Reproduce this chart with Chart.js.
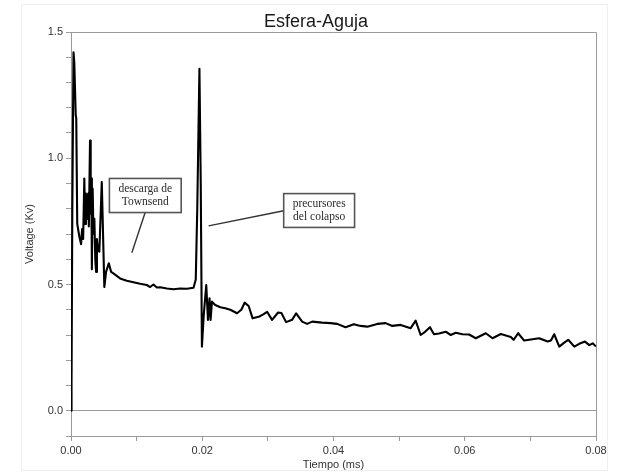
<!DOCTYPE html>
<html>
<head>
<meta charset="utf-8">
<script src="https://cdn.jsdelivr.net/npm/chart.js@4"></script>
<style>
  body { margin: 0; background: #fff; }
  #wrap { width: 617px; height: 472px; }
</style>
</head>
<body>
<div id="wrap"><canvas id="chart" width="617" height="472"></canvas></div>
<script>
// values
const tiempoMs = [
  0, 0.00008, 0.0002, 0.00038, 0.0005, 0.00072, 0.0008, 0.00095, 0.00127, 0.00153,
  0.0017, 0.00185, 0.00203, 0.00215, 0.00228, 0.0024, 0.0025, 0.00262, 0.00272, 0.0029,
  0.003, 0.0031, 0.00318, 0.0033, 0.00342, 0.00356, 0.0037, 0.00382, 0.00395, 0.00408,
  0.00432, 0.00469, 0.00508, 0.00534, 0.00576, 0.00611, 0.00646, 0.00748, 0.0085, 0.00951,
  0.01053, 0.01156, 0.01206, 0.01256, 0.01308, 0.01359, 0.01461, 0.01562, 0.01664, 0.01766,
  0.01867, 0.01901, 0.01924, 0.01957, 0.01977, 0.01995, 0.02023, 0.02061, 0.02087, 0.02111,
  0.02127, 0.02148, 0.02198, 0.02275, 0.02351, 0.02427, 0.0253, 0.02595, 0.02646, 0.02707,
  0.02768, 0.0286, 0.02936, 0.02988, 0.03064, 0.03156, 0.03206, 0.03278, 0.03369, 0.03431,
  0.03522, 0.03598, 0.03675, 0.03827, 0.03954, 0.04056, 0.04183, 0.0431, 0.04412, 0.04515,
  0.04667, 0.04794, 0.04896, 0.05023, 0.05176, 0.05252, 0.05328, 0.05379, 0.0547, 0.05531,
  0.05608, 0.0571, 0.05786, 0.05863, 0.05965, 0.06066, 0.06168, 0.06321, 0.06423, 0.0655,
  0.06702, 0.06744, 0.06814, 0.06905, 0.07034, 0.07134, 0.07263, 0.07313, 0.07363, 0.0744,
  0.07516, 0.07577, 0.07669, 0.07745, 0.07832, 0.07898, 0.0795, 0.08
];
const voltajeKv = [
  0, 0.1, 0.8, 1.42, 1.38, 1.17, 1.16, 0.74, 0.69, 0.66,
  0.72, 0.68, 0.92, 0.74, 0.86, 0.8, 0.76, 0.86, 0.73, 1.07,
  0.78, 0.92, 0.56, 0.88, 0.7, 0.76, 0.6, 0.55, 0.68, 0.64,
  0.63, 0.906, 0.49, 0.55, 0.584, 0.55, 0.544, 0.524, 0.515, 0.509,
  0.503, 0.498, 0.49, 0.5, 0.488, 0.489, 0.484, 0.481, 0.484, 0.483,
  0.487, 0.52, 0.8, 1.354, 0.9, 0.254, 0.38, 0.498, 0.36, 0.445,
  0.36, 0.432, 0.419, 0.41, 0.406, 0.4, 0.386, 0.4, 0.428, 0.415,
  0.366, 0.372, 0.383, 0.392, 0.36, 0.389, 0.387, 0.351, 0.36, 0.386,
  0.353, 0.344, 0.353, 0.349, 0.347, 0.344, 0.331, 0.343, 0.336, 0.333,
  0.344, 0.347, 0.336, 0.34, 0.327, 0.357, 0.3, 0.309, 0.331, 0.303,
  0.306, 0.313, 0.3, 0.309, 0.303, 0.302, 0.287, 0.307, 0.287, 0.304,
  0.292, 0.281, 0.307, 0.278, 0.283, 0.287, 0.274, 0.278, 0.303, 0.254,
  0.27, 0.281, 0.254, 0.265, 0.274, 0.26, 0.267, 0.254
];

const xTicks = { min: 0, max: 0.08, step: 0.01 };
const yTicks = { min: -0.1, max: 1.5, step: 0.1 };

// callouts, anchored in data units
const notas = [
  { lines: ['descarga de', 'Townsend'], box: [0.00585, 0.92, 0.01679, 0.785], from: [0.0113, 0.785], to: [0.00927, 0.626] },
  { lines: ['precursores', 'del colapso'], box: [0.03241, 0.86, 0.04321, 0.726], from: [0.03241, 0.792], to: [0.02096, 0.732] }
];

const puntos = tiempoMs.map((t, i) => ({ x: t, y: voltajeKv[i] }));
const axisGray = '#9a9a9a';
const sans = '"Liberation Sans", Arial, sans-serif';

const decor = {
  id: 'decor',
  beforeDatasetsDraw(chart) {
    const { ctx, chartArea: a } = chart;
    ctx.save();
    ctx.strokeStyle = axisGray;
    ctx.lineWidth = 1;
    ctx.beginPath();
    ctx.moveTo(a.left, a.top + 0.5);
    ctx.lineTo(a.right + 0.5, a.top + 0.5);
    ctx.lineTo(a.right + 0.5, a.bottom);
    ctx.stroke();
    ctx.restore();
  },
  afterDraw(chart) {
    const { ctx, scales: { x, y } } = chart;
    ctx.save();
    // faint outer frame
    ctx.strokeStyle = '#eeeeee';
    ctx.strokeRect(21.5, 4.5, 586, 466);

    ctx.fillStyle = '#1a1a1a';
    ctx.font = '18px ' + sans;
    ctx.textAlign = 'center';
    ctx.textBaseline = 'alphabetic';
    ctx.fillText('Esfera-Aguja', 316, 27);

    notas.forEach(n => {
      ctx.strokeStyle = '#333';
      ctx.lineWidth = 1.4;
      ctx.beginPath();
      ctx.moveTo(x.getPixelForValue(n.from[0]), y.getPixelForValue(n.from[1]));
      ctx.lineTo(x.getPixelForValue(n.to[0]), y.getPixelForValue(n.to[1]));
      ctx.stroke();
      const x0 = x.getPixelForValue(n.box[0]), y0 = y.getPixelForValue(n.box[1]);
      const x1 = x.getPixelForValue(n.box[2]), y1 = y.getPixelForValue(n.box[3]);
      ctx.fillStyle = '#fff';
      ctx.fillRect(x0, y0, x1 - x0, y1 - y0);
      ctx.lineWidth = 1.6;
      ctx.strokeStyle = '#555';
      ctx.strokeRect(x0, y0, x1 - x0, y1 - y0);
      ctx.fillStyle = '#2a2a2a';
      ctx.font = '11.5px "Liberation Serif", "Times New Roman", serif';
      ctx.textBaseline = 'middle';
      const cx = (x0 + x1) / 2, cy = (y0 + y1) / 2;
      ctx.fillText(n.lines[0], cx, cy - 6.3);
      ctx.fillText(n.lines[1], cx, cy + 6.3);
    });
    ctx.restore();
  }
};

new Chart(document.getElementById('chart'), {
  type: 'line',
  data: {
    datasets: [{
      data: puntos,
      borderColor: '#000',
      borderWidth: 2.1,
      borderJoinStyle: 'round',
      pointRadius: 0,
      tension: 0,
      fill: false
    }]
  },
  options: {
    responsive: false,
    animation: false,
    devicePixelRatio: 1,
    layout: { padding: { top: 32, right: 21, left: 0, bottom: 0 } },
    plugins: { legend: { display: false }, title: { display: false }, tooltip: { enabled: false } },
    scales: {
      x: {
        type: 'linear',
        min: xTicks.min,
        max: xTicks.max,
        afterFit(s) { s.height = 36; },
        border: { color: axisGray, width: 1 },
        grid: { drawOnChartArea: false, tickLength: 5, tickColor: axisGray },
        ticks: {
          stepSize: xTicks.step,
          autoSkip: false,
          maxRotation: 0,
          padding: 3,
          color: '#333',
          font: { family: sans, size: 11 },
          callback: v => (Math.round(v * 100) % 2 === 0 ? v.toFixed(2) : '')
        },
        title: { display: true, text: 'Tiempo (ms)', color: '#333', font: { family: sans, size: 11 }, padding: { top: 0, bottom: 0 } }
      },
      y: {
        min: yTicks.min,
        max: yTicks.max,
        afterFit(s) { s.width = 71; },
        border: { color: axisGray, width: 1 },
        grid: {
          tickLength: 5,
          tickColor: axisGray,
          color: c => (c.tick && Math.abs(c.tick.value) < 1e-9 ? axisGray : 'rgba(0,0,0,0)')
        },
        ticks: {
          stepSize: yTicks.step,
          autoSkip: false,
          padding: 3,
          color: '#333',
          font: { family: sans, size: 11 },
          callback: v => (Math.round(v * 10) % 5 === 0 ? v.toFixed(1) : '')
        },
        title: { display: true, text: 'Voltage (Kv)', color: '#333', font: { family: sans, size: 11 }, padding: { top: 23, bottom: 0 } }
      }
    }
  },
  plugins: [decor]
});
</script>
</body>
</html>
